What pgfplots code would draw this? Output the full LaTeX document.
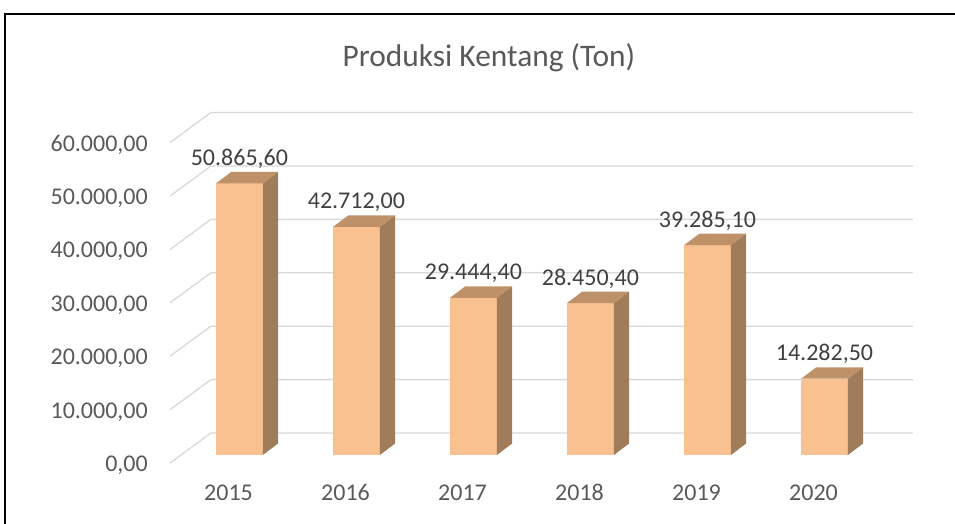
\documentclass[border=0pt]{standalone}
\usepackage{pgfplots}
\pgfplotsset{compat=1.18}
\usepackage{pgfplotstable}
\usepackage{fontspec}
\setmainfont{Carlito}
\definecolor{frontc}{HTML}{F8C18F}
\definecolor{sidec}{HTML}{A07C5A}
\definecolor{topc}{HTML}{BF9169}
\definecolor{gridc}{HTML}{D9D9D9}
\definecolor{txt}{HTML}{595959}
\definecolor{lbl}{HTML}{404040}

\pgfplotstableread{
x y label
0 50865.6 50.865,60
1 42712.0 42.712,00
2 29444.4 29.444,40
3 28450.4 28.450,40
4 39285.1 39.285,10
5 14282.5 14.282,50
}\prodtable

\pgfplotstableread{
a b c
-1 0 0
1 0 0
1 1 0
-1 1 0
}\frontshape
\pgfplotstableread{
a b c
1 0 0
1 0 1
1 1 1
1 1 0
}\sideshape
\pgfplotstableread{
a b c
-1 1 0
-1 1 1
1 1 1
1 1 0
}\topshape

\begin{document}
\begin{tikzpicture}
\useasboundingbox (0,0) rectangle (955pt,-523pt);
\draw[line width=1.6pt] (5pt,-540pt) -- (5pt,-14pt) -- (970pt,-14pt);
\node[font=\fontsize{31.4}{36}\selectfont, text=txt] at (489pt,-58pt) {Produksi Kentang (Ton)};
\begin{axis}[
  at={(170pt,-463pt)}, anchor=south west,
  scale only axis, width=743pt, height=350pt,
  xmin=-0.5, xmax=5.85, ymin=0, ymax=65543,
  axis lines*=left, axis line style={draw=none},
  tick style={draw=none},
  scaled y ticks=false,
  xtick={0,1,2,3,4,5},
  xticklabels={2015,2016,2017,2018,2019,2020},
  ytick={0,10000,20000,30000,40000,50000,60000},
  yticklabels={{0,00},{10.000,00},{20.000,00},{30.000,00},{40.000,00},{50.000,00},{60.000,00}},
  ticklabel style={font=\fontsize{24}{28}\selectfont, text=txt, inner sep=0pt},
  xticklabel style={anchor=base, yshift=-37.5pt},
  yticklabel style={anchor=base east, xshift=-22pt, yshift=-8.5pt},
  clip=false
]
% side wall and back wall gridlines
\addplot[gridc, line width=1.3pt] coordinates {(-0.5,0) (-0.15,5620) (5.85,5620)};
\addplot[gridc, line width=1.3pt] coordinates {(-0.5,10000) (-0.15,15620) (5.85,15620)};
\addplot[gridc, line width=1.3pt] coordinates {(-0.5,20000) (-0.15,25620) (5.85,25620)};
\addplot[gridc, line width=1.3pt] coordinates {(-0.5,30000) (-0.15,35620) (5.85,35620)};
\addplot[gridc, line width=1.3pt] coordinates {(-0.5,40000) (-0.15,45620) (5.85,45620)};
\addplot[gridc, line width=1.3pt] coordinates {(-0.5,50000) (-0.15,55620) (5.85,55620)};
\addplot[gridc, line width=1.3pt] coordinates {(-0.5,60000) (-0.15,65620) (5.85,65620)};
% 3D bars
\pgfplotsinvokeforeach{0,...,5}{
  \pgfplotstablegetelem{#1}{y}\of\prodtable
  \let\barval\pgfplotsretval
  \addplot[fill=frontc, draw=none] table[x expr={#1+0.0933+0.2*\thisrow{a}+0.13*\thisrow{c}}, y expr={1499+\thisrow{b}*\barval+2150*\thisrow{c}}] {\frontshape};
  \addplot[fill=sidec, draw=none] table[x expr={#1+0.0933+0.2*\thisrow{a}+0.13*\thisrow{c}}, y expr={1499+\thisrow{b}*\barval+2150*\thisrow{c}}] {\sideshape};
  \addplot[fill=topc, draw=none] table[x expr={#1+0.0933+0.2*\thisrow{a}+0.13*\thisrow{c}}, y expr={1499+\thisrow{b}*\barval+2150*\thisrow{c}}] {\topshape};
}
% data labels
\addplot[draw=none, mark=none, nodes near coords, point meta=explicit symbolic,
  every node near coord/.append style={font=\fontsize{24}{28}\selectfont, text=lbl, anchor=base, inner sep=0pt, yshift=6.5pt}]
  table[x expr=\thisrow{x}+0.0933, y expr=\thisrow{y}+3650, meta=label] {\prodtable};
\end{axis}
\end{tikzpicture}
\end{document}
